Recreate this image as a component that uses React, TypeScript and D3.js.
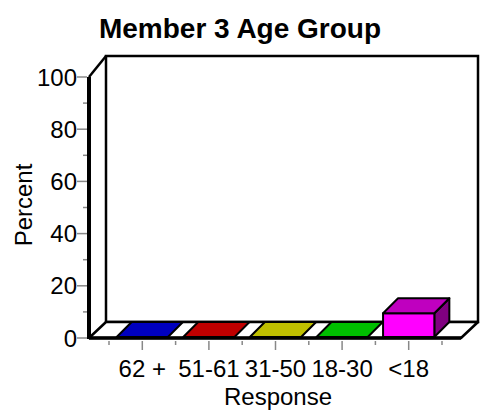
import React from "react";
import * as d3 from "d3";

const categories = ["62 +", "51-61", "31-50", "18-30", "<18"];
const values = [0, 0, 0, 0, 9.1];
const barColors = ["#0000ff", "#ff0000", "#ffff00", "#00ff00", "#ff00ff"];
const yTicks = [0, 20, 40, 60, 80, 100];
const yMinorTicks = [10, 30, 50, 70, 90];

const W = 485;
const H = 410;

export default function App() {
  const x = d3.scaleBand<string>().domain(categories).range([109, 442]).padding(0);
  const y = d3.scaleLinear().domain([0, 100]).range([338, 77]);

  const frontLeft = 89;
  const frontRight = 461;
  const wallDx = 17;
  const floorDy = -16;
  const topDy = -21;
  const backLeft = frontLeft + wallDx;
  const backRight = frontRight + wallDx;
  const y0 = y(0);
  const yTop = y(100);
  const backBottom = y0 + floorDy;
  const backTop = yTop + topDy;

  const barDx = 15;
  const barDy = -15;
  const bw = x.bandwidth() * 0.77;

  const shade = (c: string, k: number) => {
    const col = d3.rgb(c);
    return d3.rgb(col.r * k, col.g * k, col.b * k).formatHex();
  };

  const boundaries = d3.range(categories.length + 1).map((i) => 109 + i * x.step());

  return (
    <svg width={W} height={H} style={{ position: "absolute", left: 0, top: 0 }} fontFamily="Liberation Sans, Arial, sans-serif">
      <rect width={W} height={H} fill="#fff" />
      <text x={240} y={38} textAnchor="middle" fontSize={28} fontWeight="bold" fill="#000">
        Member 3 Age Group
      </text>
      <rect x={backLeft} y={backTop} width={backRight - backLeft} height={backBottom - backTop} fill="#fff" stroke="#000" strokeWidth={2.5} />
      <line x1={frontLeft} y1={yTop} x2={backLeft} y2={backTop} stroke="#000" strokeWidth={2.5} />
      <polygon
        points={`${frontLeft},${y0} ${frontRight},${y0} ${backRight},${backBottom} ${backLeft},${backBottom}`}
        fill="#fff"
        stroke="#000"
        strokeWidth={2.5}
        strokeLinejoin="round"
      />
      {categories.map((c, i) => {
        const xl = (x(c) as number) + (x.bandwidth() - bw) / 2;
        const xr = xl + bw;
        const yb = y(0) - 1;
        const yt = y(values[i]) - 1;
        const col = barColors[i];
        const top = `${xl},${yt} ${xr},${yt} ${xr + barDx},${yt + barDy} ${xl + barDx},${yt + barDy}`;
        const side = `${xr},${yt} ${xr + barDx},${yt + barDy} ${xr + barDx},${yb + barDy} ${xr},${yb}`;
        return (
          <g key={c} stroke="#000" strokeWidth={2} strokeLinejoin="round">
            {values[i] > 0 && <polygon points={side} fill={shade(col, 0.5)} />}
            {values[i] > 0 && <rect x={xl} y={yt} width={bw} height={yb - yt} fill={col} />}
            <polygon points={top} fill={shade(col, 0.75)} />
          </g>
        );
      })}
      <line x1={frontLeft} y1={y0} x2={frontRight} y2={y0} stroke="#000" strokeWidth={3.5} />
      <line x1={frontLeft} y1={yTop} x2={frontLeft} y2={y0 + 1} stroke="#000" strokeWidth={4} />
      {yTicks.map((t) => (
        <g key={t}>
          <line x1={77} x2={87} y1={y(t)} y2={y(t)} stroke="#888" strokeWidth={1.5} />
          <text x={77} y={y(t)} dy="0.36em" textAnchor="end" fontSize={24} fill="#000">
            {t}
          </text>
        </g>
      ))}
      {yMinorTicks.map((t) => (
        <line key={t} x1={83} x2={87} y1={y(t)} y2={y(t)} stroke="#888" strokeWidth={1.5} />
      ))}
      {boundaries.map((b, i) => (
        <line key={"b" + i} x1={b} x2={b} y1={341} y2={345} stroke="#888" strokeWidth={1.5} />
      ))}
      {categories.map((c) => {
        const cx = (x(c) as number) + x.bandwidth() / 2;
        return (
          <g key={c}>
            <line x1={cx} x2={cx} y1={341} y2={350} stroke="#888" strokeWidth={1.5} />
            <text x={cx} y={377} textAnchor="middle" fontSize={24} fill="#000">
              {c}
            </text>
          </g>
        );
      })}
      <text x={278} y={405} textAnchor="middle" fontSize={24} fill="#000">
        Response
      </text>
      <text transform="translate(32,205) rotate(-90)" textAnchor="middle" fontSize={24} fill="#000">
        Percent
      </text>
    </svg>
  );
}
